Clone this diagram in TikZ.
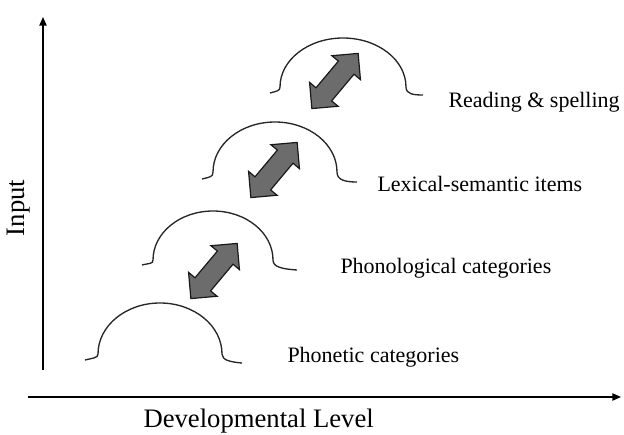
\documentclass[tikz,border=0pt]{standalone}
\usepackage{fontspec}
\setmainfont{Liberation Serif}
\usetikzlibrary{arrows.meta,shapes.arrows}
\definecolor{arrowgray}{RGB}{108,108,108}

\tikzset{every picture/.style={line width=0.75pt}}
\tikzset{
  axis/.style={line width=1.1pt,-{Triangle[length=6.5pt,width=5.5pt]}},
  arch/.style={line width=1pt,draw=black!85},
  updown/.style={double arrow,draw=black!90,fill=arrowgray,line width=0.9pt,
    minimum height=54pt,inner sep=7.2pt,double arrow head extend=6.3pt},
  level/.style={anchor=west,inner sep=0pt,font=\fontsize{16.5}{18}\selectfont},
  axlabel/.style={inner sep=0pt,font=\fontsize{20}{22}\selectfont}
}

\begin{document}
\begin{tikzpicture}[x=0.75pt,y=0.75pt,yscale=-1,xscale=1]
\useasboundingbox (0,0) rectangle (624,435);

%Axes
\coordinate (ybot) at (43,370);
\coordinate (ytop) at (43,17);
\coordinate (xleft) at (28,397);
\coordinate (xright) at (621,397);
\draw[axis] (ybot) -- (ytop);
\draw[axis] (xleft) -- (xright);

%Arch 1
\draw[arch] (85,360) .. controls (93,358) and (98,358) .. (98,354)
  arc [start angle=180,end angle=360,x radius=62,y radius=51]
  .. controls (222,360) and (230,362) .. (242,363);
%Arch 2
\draw[arch] (142,265) .. controls (150,263) and (153,264) .. (153,260)
  arc [start angle=180,end angle=360,x radius=60,y radius=49]
  .. controls (273,267) and (282,269) .. (297,270);
%Arch 3
\draw[arch] (202,179) .. controls (210,177) and (213,177) .. (213,172)
  arc [start angle=180,end angle=360,x radius=62,y radius=50]
  .. controls (337,180) and (345,182) .. (357,182);
%Arch 4
\draw[arch] (270,93) .. controls (277,91) and (280,91) .. (280,87)
  arc [start angle=180,end angle=360,x radius=63,y radius=49]
  .. controls (406,94) and (413,95) .. (423,95);

%Double arrows
\node[updown,rotate=50] (ar1) at (214,271) {};
\node[updown,rotate=50] (ar2) at (274,170) {};
\node[updown,rotate=50] (ar3) at (335,81) {};

% Text Node
\node[level] (read) at (448,102) {Reading \& spelling};
\node[level] (lex) at (377,184) {Lexical-semantic items};
\node[level] (phon) at (340,268) {Phonological categories};
\node[level] (phonet) at (287,357) {Phonetic categories};
\node[axlabel,anchor=west] (devlev) at (143,421) {Developmental Level};
\node[axlabel,rotate=90] (inp) at (19,208) {Input};

\end{tikzpicture}
\end{document}
